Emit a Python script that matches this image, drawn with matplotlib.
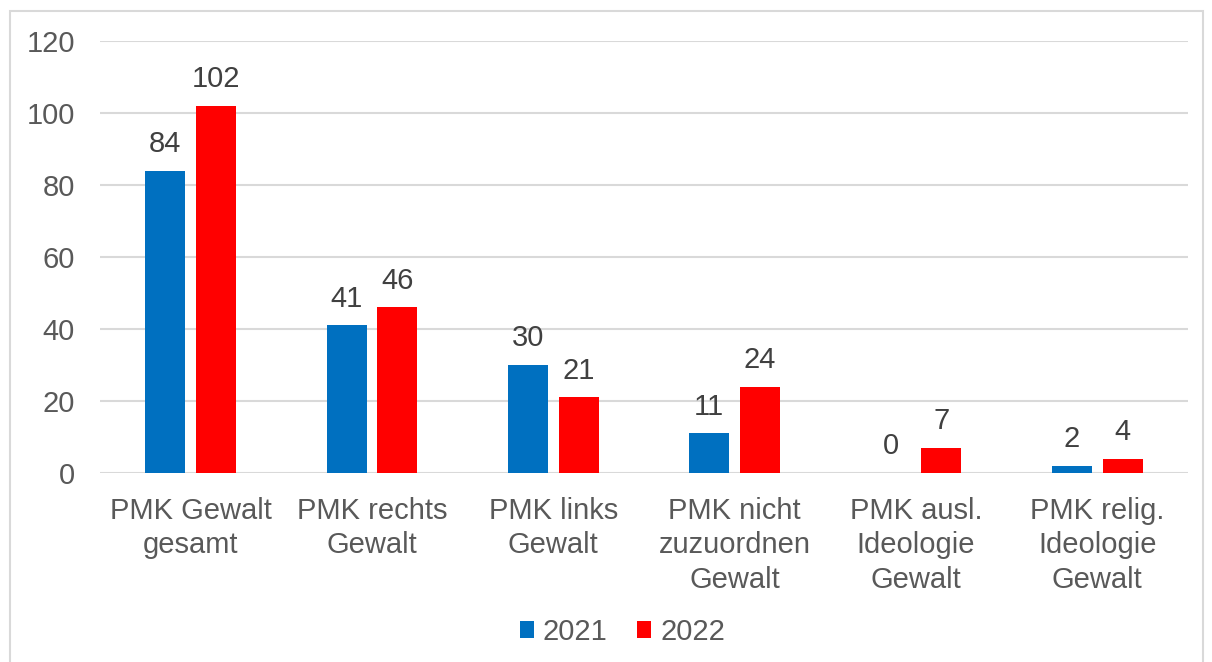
import numpy as np
import matplotlib.pyplot as plt
from matplotlib.patches import Rectangle

plt.rcParams['font.family'] = ['Liberation Sans', 'DejaVu Sans']

categories = ['PMK Gewalt\ngesamt', 'PMK rechts\nGewalt', 'PMK links\nGewalt',
              'PMK nicht\nzuzuordnen\nGewalt', 'PMK ausl.\nIdeologie\nGewalt',
              'PMK relig.\nIdeologie\nGewalt']
values_2021 = [84, 41, 30, 11, 0, 2]
values_2022 = [102, 46, 21, 24, 7, 4]
years = ['2021', '2022']

blue = '#0070C0'
red = '#FF0000'
text_col = '#595959'
label_col = '#404040'
grid_col = '#D9D9D9'
fs = 21

fig = plt.figure(figsize=(12.12, 6.62), dpi=100)
ax = fig.add_axes([100 / 1212, 1 - 473 / 662, 1088 / 1212, 432 / 662])

x = np.arange(len(categories))
w = 0.22
off = 0.14
b1 = ax.bar(x - off, values_2021, w, color=blue, label=years[0], zorder=3)
b2 = ax.bar(x + off, values_2022, w, color=red, label=years[1], zorder=3)

for bars in (b1, b2):
    ax.bar_label(bars, padding=9, fontsize=fs, color=label_col)

ax.set_xlim(-0.5, len(categories) - 0.5)
ax.set_ylim(0, 120)
ax.set_yticks(range(0, 121, 20))
ax.yaxis.grid(True, color=grid_col, linewidth=1.5, zorder=0)
ax.set_axisbelow(True)
for s in ax.spines.values():
    s.set_visible(False)
ax.tick_params(axis='both', length=0, labelsize=fs, colors=text_col)
ax.tick_params(axis='y', pad=18)
ax.tick_params(axis='x', pad=17)
ax.set_xticks(x)
ax.set_xticklabels(categories, linespacing=1.3)

ax.legend(loc='center', bbox_to_anchor=(0.48, -0.368), ncol=2, frameon=False,
          fontsize=fs, handlelength=0.5, handleheight=0.5, handletextpad=0.3,
          columnspacing=1.0, labelcolor=text_col)

fig.patches.append(Rectangle((10 / 1212, -0.05), 1193 / 1212, 1.05 - 11 / 662,
                             transform=fig.transFigure, fill=False,
                             edgecolor=grid_col, linewidth=1.5))

fig.savefig('out.png', dpi=100)
